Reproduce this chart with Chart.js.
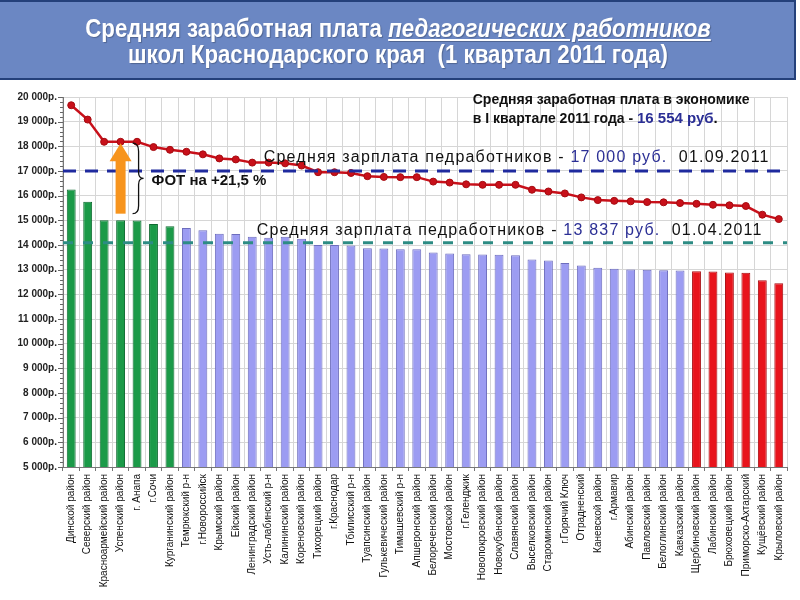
<!DOCTYPE html>
<html>
<head>
<meta charset="utf-8">
<script src="https://cdn.jsdelivr.net/npm/chart.js@4/dist/chart.umd.min.js"></script>
<style>
  body{margin:0;width:800px;height:600px;background:#fff;overflow:hidden;font-family:"Liberation Sans",Arial,sans-serif;}
  #banner{position:absolute;left:0;top:0;width:796px;height:80px;background:#6b87c3;border:2px solid #24407a;border-left:none;
    box-sizing:border-box;}
  #title{position:absolute;left:0;top:13px;width:796px;color:#fff;text-align:center;font-family:"Liberation Sans",Arial,sans-serif;
    font-weight:bold;font-size:25px;line-height:26px;transform:scaleX(0.89);transform-origin:398px 0;text-shadow:1px 1px 1px rgba(0,0,0,0.25);}
  #title i{text-decoration:underline;}
  #wrap{position:absolute;left:0;top:85px;width:800px;height:515px;}
</style>
</head>
<body>
<div id="banner"><div id="title">Средняя заработная плата <i>педагогических работников</i><br>школ Краснодарского края&nbsp; (1 квартал 2011 года)</div></div>
<div id="wrap"><canvas id="c"></canvas></div>
<script>
const districts = ["Динской район","Северский район","Красноармейский район","Успенский район","г. Анапа","г.Сочи",
  "Курганинский район","Темрюкский р-н","г.Новороссийск","Крымский район","Ейский район","Ленинградский район",
  "Усть-лабинский р-н","Калининский район","Кореновский район","Тихорецкий район","г.Краснодар","Тбилисский р-н",
  "Туапсинский район","Гулькевический район","Тимашевский р-н","Апшеронский район","Белореченский район",
  "Мостовской район","г.Геленджик","Новопокровский район","Новокубанский район","Славянский район",
  "Выселковский район","Староминский район","г.Горячий Ключ","Отрадненский","Каневской район","г.Армавир",
  "Абинский район","Павловский район","Белоглинский район","Кавказский район","Щербиновский район",
  "Лабинский район","Брюховецкий район","Приморско-Ахтарский","Кущёвский район","Крыловский район"];

// зарплата 1 кв. 2011
const salaryQ1 = [16250,15750,15000,15000,14990,14850,14760,14690,14600,14460,14450,14330,14290,14330,14250,
  14000,14000,13980,13870,13860,13830,13830,13700,13660,13620,13610,13600,13580,13410,13370,13270,13170,
  13080,13040,13010,13000,12980,12970,12940,12930,12890,12880,12570,12450];

// зарплата после повышения (01.09.2011)
const salarySep = [19665,19085,18185,18185,18185,17970,17860,17780,17675,17510,17470,17340,17340,17310,17220,
  16950,16950,16920,16790,16760,16750,16750,16570,16530,16460,16440,16440,16440,16240,16170,16090,15930,
  15820,15790,15770,15740,15730,15700,15670,15630,15610,15580,15230,15050];

const avgSep = 17000;
const avgQ1 = 14090;
const yTicksMin = 5000;
const yTicksMax = 20000;
const leaders = 7;
const laggards = 6;

function fmt(v){
  return String(v).replace(/\B(?=(\d{3})+(?!\d))/g, " ") + "р.";
}

const barColors = salaryQ1.map((v,i) =>
  i < leaders ? "#1b9a48" : (i >= salaryQ1.length - laggards ? "#e8141c" : "#9c9cf2"));
const barBorders = salaryQ1.map((v,i) =>
  i < leaders ? "#0f6b31" : (i >= salaryQ1.length - laggards ? "#a80c10" : "#6d6dbd"));

function multiText(ctx, parts, x, y){
  parts.forEach(p => {
    ctx.fillStyle = p[1];
    ctx.fillText(p[0], x, y);
    x += ctx.measureText(p[0]).width;
  });
}

const overlay = {
  id:"overlay",
  afterDatasetsDraw(chart){
    const ctx = chart.ctx;
    const ys = chart.scales.y, xs = chart.scales.x;
    const area = chart.chartArea;
    ctx.save();

    // reference lines
    ctx.lineWidth = 3;
    ctx.setLineDash([13,9]);
    ctx.strokeStyle = "#1f2a9e";
    let y1 = ys.getPixelForValue(avgSep);
    ctx.beginPath(); ctx.moveTo(area.left, y1); ctx.lineTo(area.right, y1); ctx.stroke();
    ctx.strokeStyle = "#2d8c84";
    ctx.setLineDash([10,10]);
    let y2 = ys.getPixelForValue(avgQ1);
    ctx.beginPath(); ctx.moveTo(area.left, y2); ctx.lineTo(area.right, y2); ctx.stroke();
    ctx.setLineDash([]);

    // orange arrow
    const ax = xs.getPixelForValue(3);
    const aBot = ys.getPixelForValue(15270), aTop = ys.getPixelForValue(18130);
    ctx.fillStyle = "#f7941d";
    ctx.fillRect(ax - 5, aTop + 17, 10, aBot - aTop - 17);
    ctx.beginPath();
    ctx.moveTo(ax, aTop); ctx.lineTo(ax + 11, aTop + 18); ctx.lineTo(ax - 11, aTop + 18); ctx.closePath();
    ctx.fill();

    // brace
    const bx = ax + 15, bm = (aTop + aBot) / 2;
    ctx.strokeStyle = "#111"; ctx.lineWidth = 1.3;
    ctx.beginPath();
    ctx.moveTo(bx - 3, aTop);
    ctx.quadraticCurveTo(bx + 3, aTop, bx + 3, aTop + 8);
    ctx.lineTo(bx + 3, bm - 6);
    ctx.quadraticCurveTo(bx + 3, bm, bx + 8, bm);
    ctx.quadraticCurveTo(bx + 3, bm, bx + 3, bm + 6);
    ctx.lineTo(bx + 3, aBot - 8);
    ctx.quadraticCurveTo(bx + 3, aBot, bx - 3, aBot);
    ctx.stroke();

    ctx.textBaseline = "middle";
    ctx.font = "bold 15px 'Liberation Sans', Arial, sans-serif";
    ctx.fillStyle = "#111";
    ctx.fillText("ФОТ на +21,5 %", bx + 16, bm + 2);

    // labels
    ctx.font = "16px 'Liberation Sans', Arial, sans-serif";
    ctx.letterSpacing = "1.2px";
    ctx.textBaseline = "alphabetic";
    const blue = "#2b2f95";
    multiText(ctx, [["Средняя зарплата педработников - ","#111"],["17 000 руб.",blue],["  01.09.2011","#111"]],
      xs.getPixelForValue(11.7), y1 - 9);
    multiText(ctx, [["Средняя зарплата педработников - ","#111"],["13 837 руб.",blue],["  01.04.2011","#111"]],
      xs.getPixelForValue(11.27), y2 - 8);
    ctx.letterSpacing = "0px";

    ctx.font = "bold 14px 'Liberation Sans', Arial, sans-serif";
    multiText(ctx, [["Средняя заработная плата в экономике","#111"]], xs.getPixelForValue(24.4), ys.getPixelForValue(19720));
    ctx.font = "bold 14px 'Liberation Sans', Arial, sans-serif";
    multiText(ctx, [["в I квартале 2011 года - ","#111"]], xs.getPixelForValue(24.4), ys.getPixelForValue(18950));
    const w0 = ctx.measureText("в I квартале 2011 года - ").width;
    ctx.font = "bold 15px 'Liberation Sans', Arial, sans-serif";
    multiText(ctx, [["16 554 руб",blue],[".","#111"]], xs.getPixelForValue(24.4) + w0, ys.getPixelForValue(18950));
    ctx.restore();
  },
  afterDraw(chart){
    // minor ticks on y axis
    const ctx = chart.ctx, ys = chart.scales.y, left = chart.chartArea.left;
    ctx.save();
    ctx.strokeStyle = "#666"; ctx.lineWidth = 1;
    for(let v = yTicksMin; v <= yTicksMax; v += 200){
      const y = Math.round(ys.getPixelForValue(v)) + 0.5;
      ctx.beginPath(); ctx.moveTo(left - (v % 1000 === 0 ? 5 : 3), y); ctx.lineTo(left, y); ctx.stroke();
    }
    ctx.restore();
  }
};

new Chart(document.getElementById("c"), {
  data:{
    labels:districts,
    datasets:[
      {
        type:"line",
        data:salarySep,
        borderColor:"#c8101a",
        backgroundColor:"#c8101a",
        borderWidth:2.5,
        pointRadius:3.5,
        pointBackgroundColor:"#c8101a",
        pointBorderColor:"#a50b10",
        pointBorderWidth:1,
        tension:0,
        order:0
      },
      {
        type:"bar",
        data:salaryQ1,
        backgroundColor:barColors,
        borderColor:barBorders,
        borderWidth:1,
        barPercentage:0.54,
        categoryPercentage:1,
        order:1
      }
    ]
  },
  options:{
    responsive:true,
    maintainAspectRatio:false,
    animation:false,
    layout:{padding:{top:10,right:13,left:0,bottom:0}},
    plugins:{legend:{display:false},tooltip:{enabled:false}},
    scales:{
      x:{
        grid:{offset:true,color:"#d6d6d6",tickLength:4,tickColor:"#777"},
        border:{color:"#777"},
        ticks:{minRotation:90,maxRotation:90,autoSkip:false,color:"#111",padding:3,
          font:{size:10,family:"'Liberation Sans', Arial, sans-serif"}},
        afterFit(s){ s.height = 133; }
      },
      y:{
        min:yTicksMin,
        max:yTicksMax,
        grid:{color:"#d6d6d6",tickLength:0},
        border:{color:"#777"},
        ticks:{stepSize:1000,color:"#222",padding:6,callback:v => fmt(v),
          font:{size:10,weight:"bold",family:"'Liberation Sans', Arial, sans-serif"}},
        afterFit(s){ s.width = 63; }
      }
    }
  },
  plugins:[overlay]
});
</script>
</body>
</html>
